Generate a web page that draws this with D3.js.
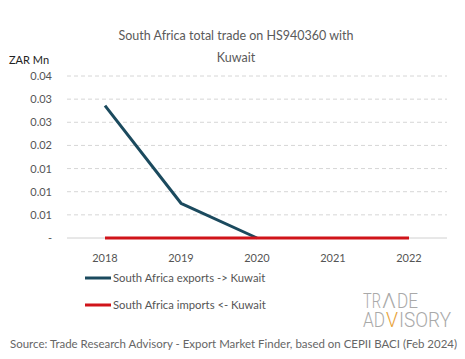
<!DOCTYPE html>
<html><head><meta charset="utf-8">
<script src="https://cdn.jsdelivr.net/npm/d3@7"></script>
<style>body{margin:0;background:#fff}svg{display:block}</style>
</head><body><svg id="c" width="465" height="359"></svg>
<script>
const years = ["2018","2019","2020","2021","2022"];
const exportsVals = [0.0286, 0.0075, 0, null, null];
const importsVals = [0, 0, 0, 0, 0];
const yTicks = [0, 0.005, 0.01, 0.015, 0.02, 0.025, 0.03, 0.035];
const seriesNames = ["South Africa exports -> Kuwait", "South Africa imports <- Kuwait"];
const colors = ["#1b4a5e", "#d0141a"];

const font = "Lato, 'Open Sans', sans-serif";
const svg = d3.select("#c");
const x = d3.scaleBand().domain(years).range([67, 447]);
const y = d3.scaleLinear().domain([0, 0.035]).range([238, 76]);

svg.append("text").attr("x", 236).attr("y", 40).attr("text-anchor", "middle")
  .attr("font-family", font).attr("font-size", 12.5).attr("fill", "#5a5a5a")
  .text("South Africa total trade on HS940360 with");
svg.append("text").attr("x", 236).attr("y", 62).attr("text-anchor", "middle")
  .attr("font-family", font).attr("font-size", 12.5).attr("fill", "#5a5a5a").text("Kuwait");
svg.append("text").attr("x", 9).attr("y", 64)
  .attr("font-family", font).attr("font-size", 11).attr("fill", "#222").text("ZAR Mn");

// gridlines
svg.append("g").selectAll("line").data(yTicks).join("line")
  .attr("x1", 67).attr("x2", 447)
  .attr("y1", d => y(d)).attr("y2", d => y(d))
  .attr("stroke", d => d === 0 ? "#d0d0d0" : "#d6d6d6")
  .attr("stroke-dasharray", d => d === 0 ? null : "4,3");

const fmt = d => d === 0 ? "-" : d3.format(".2f")(d);
const yAxis = svg.append("g").attr("transform", "translate(56,0)")
  .call(d3.axisLeft(y).tickValues(yTicks).tickFormat(fmt).tickSize(0).tickPadding(4));
yAxis.select(".domain").remove();
yAxis.selectAll("text").attr("font-family", font).attr("font-size", 11).attr("fill", "#555");

const xAxis = svg.append("g").attr("transform", "translate(0,250)")
  .call(d3.axisBottom(x).tickSize(0).tickPadding(4));
xAxis.select(".domain").remove();
xAxis.selectAll("text").attr("font-family", font).attr("font-size", 11).attr("fill", "#555");

const line = d3.line().defined(d => d.v !== null)
  .x(d => x(d.year) + x.bandwidth() / 2).y(d => y(d.v));
[exportsVals, importsVals].forEach((vals, i) => {
  svg.append("path")
    .datum(years.map((yr, j) => ({year: yr, v: vals[j]})))
    .attr("d", line).attr("fill", "none").attr("stroke", colors[i])
    .attr("stroke-width", 3).attr("stroke-linejoin", "round");
});

// legend
seriesNames.forEach((n, i) => {
  const ly = 278 + i * 27;
  svg.append("line").attr("x1", 85).attr("x2", 111).attr("y1", ly).attr("y2", ly)
    .attr("stroke", colors[i]).attr("stroke-width", 3);
  svg.append("text").attr("x", 113).attr("y", ly + 4)
    .attr("font-family", font).attr("font-size", 11.3).attr("fill", "#555").text(n);
});

// logo (separate pieces, placed side by side)
const logo = svg.append("g").attr("font-family", "Roboto, sans-serif").attr("font-weight", 300)
  .attr("fill", "#a9a9a9").attr("font-size", 21);
const pieces = [
  {t: "TR", x0: 363, x1: 381, y: 308, c: "#a9a9a9"},
  {t: "Λ", x0: 382, x1: 396, y: 308, c: "#a9a9a9"},
  {t: "DE", x0: 397, x1: 418, y: 308, c: "#a9a9a9"},
  {t: "AD", x0: 363, x1: 385, y: 327, c: "#a9a9a9"},
  {t: "V", x0: 386, x1: 398, y: 327, c: "#e8a33a"},
  {t: "ISORY", x0: 399, x1: 451, y: 327, c: "#a9a9a9"}
];
pieces.forEach(p => {
  logo.append("text").attr("x", p.x0).attr("y", p.y).attr("fill", p.c)
    .attr("textLength", p.x1 - p.x0).attr("lengthAdjust", "spacingAndGlyphs").text(p.t);
});

svg.append("text").attr("x", 10).attr("y", 348)
  .attr("font-family", font).attr("font-size", 11).attr("fill", "#666")
  .attr("textLength", 447).attr("lengthAdjust", "spacingAndGlyphs")
  .text("Source: Trade Research Advisory - Export Market Finder, based on CEPII BACI (Feb 2024)");
</script></body></html>
